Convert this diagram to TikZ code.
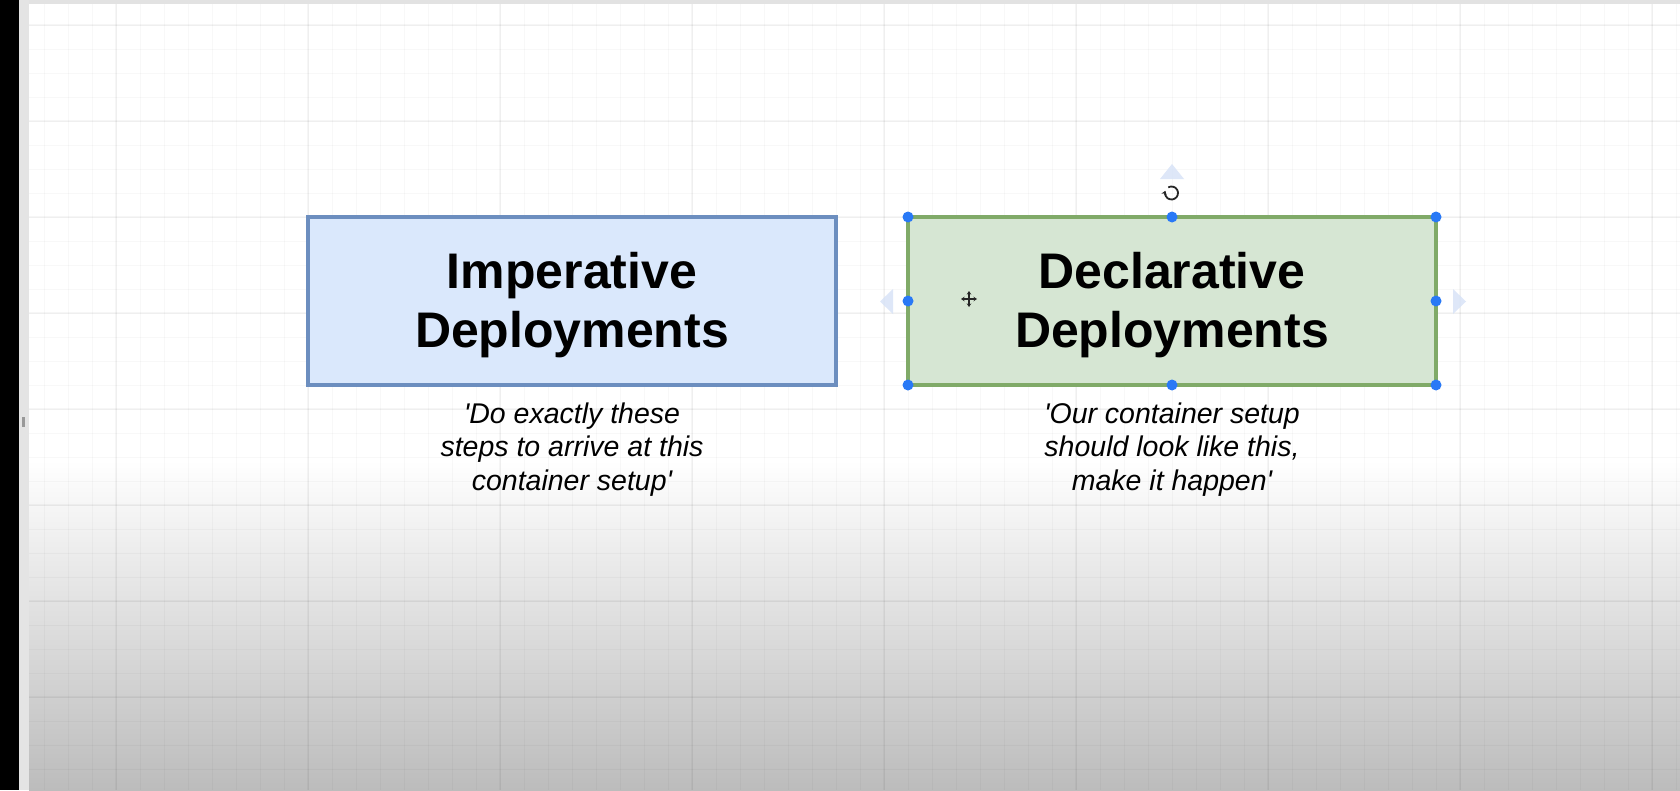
\documentclass[tikz,border=0pt]{standalone}
\usepackage{fontspec}
\setmainfont{Liberation Sans}
\usetikzlibrary{arrows.meta}
\definecolor{impfill}{RGB}{218,232,252}
\definecolor{impline}{RGB}{108,142,191}
\definecolor{decfill}{RGB}{214,230,211}
\definecolor{decline}{RGB}{128,170,104}
\definecolor{handleblue}{RGB}{41,121,246}
\definecolor{hintblue}{RGB}{214,226,247}
\definecolor{shadebot}{RGB}{188,188,188}
\definecolor{stripgray}{RGB}{228,228,228}
\definecolor{topbar}{RGB}{226,226,226}
\tikzset{
  minorgrid/.style={draw=black, opacity=0.028, line width=1pt},
  majorgrid/.style={draw=black, opacity=0.035, line width=1.2pt},
  impbox/.style={draw=impline, fill=impfill, line width=3.5pt, minimum width=528pt, minimum height=168pt, inner sep=0pt, outer sep=0pt},
  decbox/.style={draw=decline, fill=decfill, line width=3.5pt, minimum width=528pt, minimum height=168pt, inner sep=0pt, outer sep=0pt},
  titletext/.style={align=center, inner sep=0pt, font=\fontsize{50}{59}\selectfont\bfseries},
  captext/.style={align=center, inner sep=0pt, font=\fontsize{28.5}{33.5}\selectfont\itshape},
  handle/.style={fill=handleblue},
  hint/.style={fill=hintblue, opacity=0.8},
  rotstyle/.style={draw=black!85, line width=1.8pt, -{Stealth[length=4pt,width=5.5pt]}},
  curs/.style={draw=black!85, line width=1.4pt, -{Stealth[length=3.5pt,width=4.5pt]}}
}
\begin{document}
\begin{tikzpicture}[x=1pt,y=-1pt]
\useasboundingbox (0,0) rectangle (1680,790);
% canvas
\fill[white] (0,0) rectangle (1680,790);
\shade[top color=white, bottom color=shadebot] (29,460) rectangle (1680,790);
% grid
\foreach \x in {44,68,...,1676} \draw[minorgrid] (\x,4) -- (\x,790);
\foreach \y in {25,49,...,785} \draw[minorgrid] (29,\y) -- (1680,\y);
\foreach \x in {116,308,...,1652} \draw[majorgrid] (\x,4) -- (\x,790);
\foreach \y in {25,121,...,697} \draw[majorgrid] (29,\y) -- (1680,\y);
% window frame
\fill[topbar] (0,0) rectangle (1680,4);
\fill[black] (0,0) rectangle (19,790);
\fill[stripgray] (19,0) rectangle (29,790);
\fill[black!40] (21.5,417) rectangle (24.5,427);

% boxes
\node[impbox] (imp) at (572,301) {};
\node[decbox] (dec) at (1172,301) {};
\node[titletext] (imptitle) at (572,305) {Imperative\\Deployments};
\node[titletext] (dectitle) at (1172,305) {Declarative\\Deployments};

% captions
\node[captext] (impcap) at (572,449.5) {\textquotesingle Do exactly these\\steps to arrive at this\\container setup\textquotesingle};
\node[captext] (deccap) at (1172,449.5) {\textquotesingle Our container setup\\should look like this,\\make it happen\textquotesingle};

% selection hints
\fill[hint] (1172,164) -- (1184,179) -- (1160,179) -- cycle;
\fill[hint] (880,301.5) -- (893,289) -- (893,314) -- cycle;
\fill[hint] (1466,301.5) -- (1453,289) -- (1453,314) -- cycle;

% selection handles
\foreach \a in {north west,north,north east,west,east,south west,south,south east}
  \fill[handle] (dec.\a) circle (5.5pt);

% rotate icon
\coordinate (rot) at (1171.5,193);
\begin{scope}[shift={(rot)}, x=1pt, y=1pt]
  \draw[rotstyle] (120:6.5) arc[start angle=120, end angle=-200, radius=6.5];
\end{scope}

% move cursor
\coordinate (mv) at (969,299);
\draw[curs] (mv) -- ++(0,-8);
\draw[curs] (mv) -- ++(0,8);
\draw[curs] (mv) -- ++(-8,0);
\draw[curs] (mv) -- ++(8,0);
\end{tikzpicture}
\end{document}
